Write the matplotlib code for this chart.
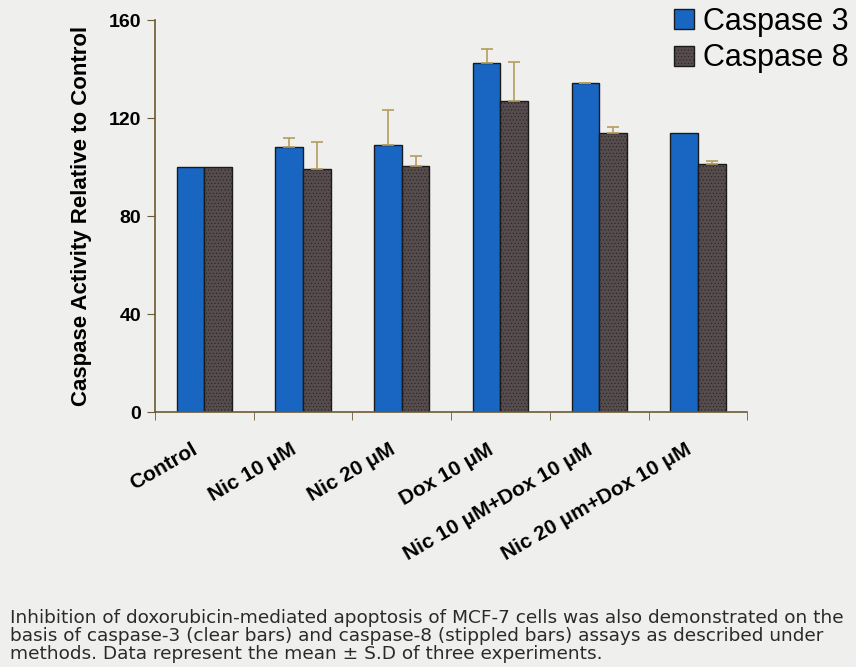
import numpy as np
import matplotlib.pyplot as plt
import matplotlib.transforms as mtransforms

categories = ['Control', 'Nic 10 \u03bcM', 'Nic 20 \u03bcM', 'Dox 10 \u03bcM',
              'Nic 10 \u03bcM+Dox 10 \u03bcM', 'Nic 20 \u03bcm+Dox 10 \u03bcM']
casp3 = [100, 108.2, 109, 142.4, 134.2, 114]
casp3_err = [0, 3.6, 14.3, 5.8, 0.3, 0]
casp8 = [100, 99.2, 100.4, 127, 114, 101.2]
casp8_err = [0, 11, 4.1, 16, 2.2, 1.3]

bg = '#efefed'
blue = '#1866c2'
dark = '#564b4d'
axcol = '#6b5a34'

plt.rcParams['hatch.color'] = '#3a3233'
plt.rcParams['hatch.linewidth'] = 0.3

fig = plt.figure(figsize=(8.56, 6.67), dpi=100, facecolor=bg)
ax = fig.add_axes([0.181, 0.382, 0.692, 0.588], facecolor=bg)

x = np.arange(len(categories))
w = 0.28
ax.bar(x - w / 2, casp3, w, color=blue, edgecolor='#1a1a1a', linewidth=1.0,
       label='Caspase 3', zorder=2)
ax.bar(x + w / 2, casp8, w, color=dark, edgecolor='#1a1a1a', linewidth=1.0,
       hatch='.....', label='Caspase 8', zorder=2)

# only upward error bars, skip the zero ones
for xs, vals, errs in [(x - w / 2, casp3, casp3_err), (x + w / 2, casp8, casp8_err)]:
    m = np.array(errs) > 0
    ax.errorbar(xs[m], np.array(vals)[m], yerr=[np.zeros(m.sum()), np.array(errs)[m]],
                fmt='none', ecolor='#b59d5e', elinewidth=1.2, capsize=4,
                capthick=1.2, zorder=3)

ax.set_xlim(-0.5, len(categories) - 0.5)
ax.set_ylim(0, 160)
ax.set_yticks([0, 40, 80, 120, 160])
ax.set_xticks(x)
ax.set_xticklabels([])
# rotated category labels, nudged a bit left of the group centre
shift = mtransforms.ScaledTranslation(-0.13, -0.28, fig.dpi_scale_trans)
for xi, name in zip(x, categories):
    ax.text(xi, 0, name, transform=ax.get_xaxis_transform() + shift,
            rotation=30, ha='right', va='top', rotation_mode='anchor',
            fontsize=15, fontweight='bold', family='Liberation Sans')
ax.set_xticks(np.arange(-0.5, len(categories)), minor=True)
ax.tick_params(axis='x', which='major', length=0)
ax.tick_params(axis='x', which='minor', length=6, direction='out', color=axcol)
ax.tick_params(axis='y', length=6, direction='out', color=axcol, pad=4)
for lab in ax.get_yticklabels():
    lab.set_fontsize(14)
    lab.set_fontweight('bold')
    lab.set_family('Liberation Sans')

for s in ['top', 'right']:
    ax.spines[s].set_visible(False)
for s in ['left', 'bottom']:
    ax.spines[s].set_color(axcol)
    ax.spines[s].set_linewidth(1.2)

ax.set_ylabel('Caspase Activity Relative to Control', fontsize=16,
              fontweight='bold', family='Liberation Sans', labelpad=12)

leg = fig.legend(loc='upper right', bbox_to_anchor=(1.016, 1.022), frameon=False,
                 prop={'family': 'Liberation Sans', 'size': 22},
                 handlelength=0.65, handleheight=0.65, handletextpad=0.3,
                 labelspacing=0.22, borderaxespad=0.3)

caption = ('Inhibition of doxorubicin-mediated apoptosis of MCF-7 cells was also demonstrated on the\n'
           'basis of caspase-3 (clear bars) and caspase-8 (stippled bars) assays as described under\n'
           'methods. Data represent the mean \u00b1 S.D of three experiments.')
fig.text(0.012, 1 - 609 / 667, caption, fontsize=13.3, family='DejaVu Sans',
         color='#2a2a2a', va='top', ha='left', linespacing=1.0)

fig.savefig('out.png', dpi=100, facecolor=bg)
